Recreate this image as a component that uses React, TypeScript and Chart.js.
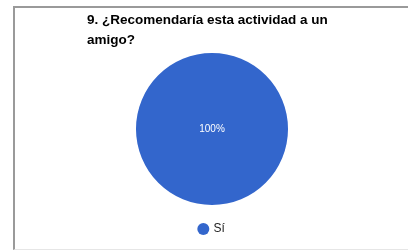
import React, { useEffect, useRef } from "react";
import { Chart, registerables } from "chart.js";

Chart.register(...registerables);

const titleLines = ["9. ¿Recomendaría esta actividad a un", "amigo?"];
const categories = ["Sí"];
const values = [100];
const colors = ["#3366cc"];

const centerLabel = {
  id: "centerLabel",
  afterDatasetsDraw(chart: any) {
    const meta = chart.getDatasetMeta(0);
    const total = values.reduce((a, b) => a + b, 0);
    const ctx = chart.ctx;
    meta.data.forEach((arc: any, i: number) => {
      const pct = Math.round((values[i] / total) * 100);
      let x = arc.x;
      let y = arc.y;
      if (pct < 100) {
        const p = arc.tooltipPosition();
        x = p.x;
        y = p.y;
      }
      ctx.save();
      ctx.fillStyle = "#ffffff";
      ctx.font = "10px Arial, 'Liberation Sans', sans-serif";
      ctx.textAlign = "center";
      ctx.textBaseline = "middle";
      ctx.fillText(pct + "%", x, y);
      ctx.restore();
    });
  },
};

export default function App() {
  const ref = useRef<HTMLCanvasElement>(null);
  useEffect(() => {
    if (!ref.current) return;
    const chart = new Chart(ref.current, {
      type: "pie",
      data: {
        labels: categories,
        datasets: [
          {
            data: values,
            backgroundColor: colors,
            borderWidth: 0,
          },
        ],
      },
      options: {
        animation: false,
        responsive: false,
        layout: { padding: { left: 72, right: 72, top: 10, bottom: 6 } },
        plugins: {
          title: {
            display: true,
            text: titleLines,
            align: "start",
            color: "#000000",
            font: { family: "Arial, 'Liberation Sans', sans-serif", size: 13.5, weight: "bold", lineHeight: 1.48 },
            padding: { top: 0, bottom: 3 },
          },
          legend: {
            position: "bottom",
            labels: {
              usePointStyle: true,
              pointStyle: "circle",
              boxWidth: 8.5,
              boxHeight: 8.5,
              padding: 18,
              color: "#222222",
              font: { family: "Arial, 'Liberation Sans', sans-serif", size: 12 },
            },
          },
          tooltip: { enabled: false },
        },
      },
      plugins: [centerLabel],
    });
    return () => chart.destroy();
  }, []);

  return (
    <div style={{ position: "fixed", left: 0, top: 0, width: 408, height: 251, background: "#fff", overflow: "hidden" }}>
      <div
        style={{
          position: "absolute",
          left: 13,
          top: 6,
          width: 400,
          height: 241,
          borderLeft: "2px solid #9a9a9a",
          borderTop: "2px solid #9a9a9a",
          borderBottom: "1px solid #e6e6e6",
        }}
      />
      <canvas ref={ref} width={394} height={251} style={{ position: "absolute", left: 15, top: 0 }} />
    </div>
  );
}
